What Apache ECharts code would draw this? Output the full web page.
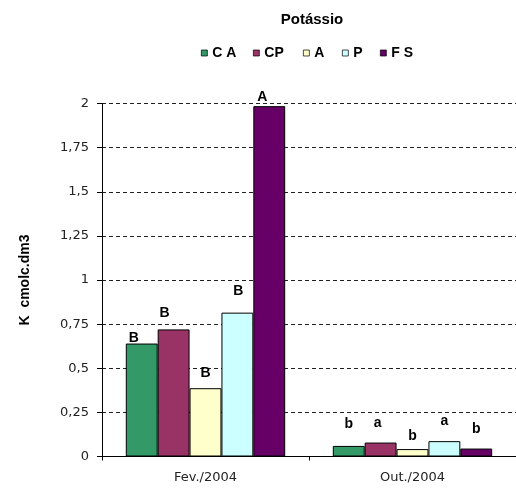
<!DOCTYPE html>
<html>
<head>
<meta charset="utf-8">
<script src="https://cdn.jsdelivr.net/npm/echarts@6/dist/echarts.min.js"></script>
<style>html,body{margin:0;padding:0;background:#fff;}#c{width:516px;height:488px;}</style>
</head>
<body>
<div id="c"></div>
<script>
const categories = ['Fev./2004', 'Out./2004'];
const seriesNames = ['C A', 'CP', 'A', 'P', 'F S'];
const valuesCA = [0.64, 0.06];
const valuesCP = [0.72, 0.079];
const valuesA = [0.387, 0.042];
const valuesP = [0.815, 0.087];
const valuesFS = [1.985, 0.045];
const lettersCA = ['B', 'b'];
const lettersCP = ['B', 'a'];
const lettersA = ['B', 'b'];
const lettersP = ['B', 'a'];
const lettersFS = ['A', 'b'];
const yTicks = [0, 0.25, 0.5, 0.75, 1, 1.25, 1.5, 1.75, 2];

// styling (not data): colours, legend x positions, label offsets [dx, gap]
const colors = ['#339966', '#993366', '#ffffcc', '#ccffff', '#660066'];
const legendLeft = [201, 253, 303, 342, 380];
const labelOffsets = [
  [[-8, -3], [0, 14]],
  [[-9, 8], [-3, 11]],
  [[0, 7], [0, 5]],
  [[1, 14], [0, 12]],
  [[-7, 1], [0, 11]]
];
const allValues = [valuesCA, valuesCP, valuesA, valuesP, valuesFS];
const allLetters = [lettersCA, lettersCP, lettersA, lettersP, lettersFS];
const font = 'Liberation Sans, Arial, sans-serif';
const tickFont = 'DejaVu Sans, sans-serif';

const chart = echarts.init(document.getElementById('c'), null, {renderer: 'canvas'});
chart.setOption({
  animation: false,
  backgroundColor: '#fff',
  color: colors,
  title: {
    text: 'Potássio', left: 307, top: 7, textAlign: 'center',
    textStyle: {fontFamily: font, fontSize: 15, fontWeight: 'bold', color: '#000'}
  },
  legend: seriesNames.map((n, i) => ({
    left: legendLeft[i], top: 46, itemWidth: 6, itemHeight: 6, padding: 0,
    icon: 'rect', selectedMode: false,
    textStyle: {fontFamily: font, fontSize: 14, fontWeight: 'bold', color: '#000'},
    data: [{name: n, itemStyle: {borderColor: '#000', borderWidth: 0.7}}]
  })),
  grid: {left: 102, top: 103.5, width: 420, height: 353},
  xAxis: {
    type: 'category', data: categories,
    axisLine: {lineStyle: {color: '#000', width: 1}},
    axisTick: {show: true, length: 4, inside: false, lineStyle: {color: '#000'}},
    axisLabel: {fontFamily: tickFont, fontSize: 13, color: '#222', margin: 15}
  },
  yAxis: {
    type: 'value', min: 0, max: 2, interval: 0.25,
    name: 'K  cmolc.dm3', nameLocation: 'middle', nameGap: 70, nameRotate: 90,
    nameTextStyle: {fontFamily: font, fontSize: 14, fontWeight: 'bold', color: '#000'},
    axisLine: {show: true, lineStyle: {color: '#000', width: 1}},
    axisTick: {show: true, length: 5, lineStyle: {color: '#000'}},
    axisLabel: {fontFamily: tickFont, fontSize: 13, color: '#222', margin: 13,
      formatter: v => String(v).replace('.', ',')},
    splitLine: {show: true, lineStyle: {color: '#222', type: [4, 3], width: 1}}
  },
  series: seriesNames.map((n, i) => ({
    name: n, type: 'bar', barGap: '0%', barCategoryGap: '23%',
    data: allValues[i].map((v, j) => ({
      value: v,
      label: {formatter: allLetters[i][j], offset: [labelOffsets[i][j][0], -labelOffsets[i][j][1]]}
    })),
    itemStyle: {color: colors[i], borderColor: '#000', borderWidth: 1},
    label: {show: true, position: 'top', distance: 1, fontFamily: font, fontSize: 14, fontWeight: 'bold', color: '#000'}
  }))
});
</script>
</body>
</html>
